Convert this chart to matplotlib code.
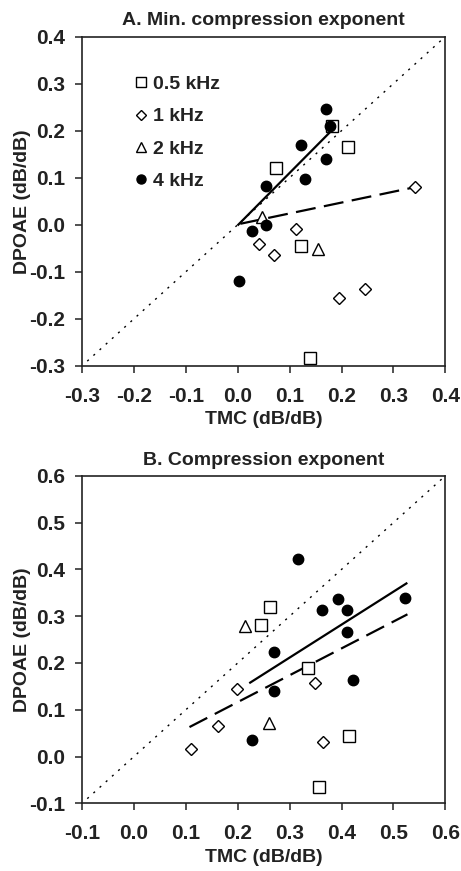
import matplotlib
matplotlib.use("Agg")
import matplotlib.pyplot as plt
from matplotlib.lines import Line2D

plt.rcParams['font.family'] = ['Liberation Sans', 'DejaVu Sans']
plt.rcParams['font.weight'] = 'bold'

# ---------------- Panel A data ----------------
a_sq_x = [0.073, 0.181, 0.212, 0.122, 0.139]
a_sq_y = [0.120, 0.210, 0.165, -0.046, -0.284]
a_di_x = [0.342, 0.112, 0.041, 0.069, 0.195, 0.245]
a_di_y = [0.080, -0.010, -0.042, -0.065, -0.155, -0.136]
a_tr_x = [0.046, 0.155]
a_tr_y = [0.016, -0.051]
a_ci_x = [0.170, 0.177, 0.122, 0.170, 0.130, 0.054, 0.054, 0.027, 0.003]
a_ci_y = [0.245, 0.210, 0.169, 0.140, 0.098, 0.082, 0.000, -0.014, -0.120]
a_solid_x = [0.001, 0.178]
a_solid_y = [0.000, 0.197]
a_dash_x = [0.005, 0.338]
a_dash_y = [0.002, 0.079]
a_diag = [-0.29, 0.395]
a_lim = [-0.3, 0.4]
a_ticks = [-0.3, -0.2, -0.1, 0.0, 0.1, 0.2, 0.3, 0.4]

# ---------------- Panel B data ----------------
b_sq_x = [0.263, 0.244, 0.336, 0.415, 0.356]
b_sq_y = [0.320, 0.281, 0.190, 0.044, -0.065]
b_di_x = [0.198, 0.349, 0.161, 0.110, 0.364]
b_di_y = [0.144, 0.158, 0.066, 0.016, 0.031]
b_tr_x = [0.214, 0.261]
b_tr_y = [0.278, 0.071]
b_ci_x = [0.316, 0.363, 0.394, 0.410, 0.410, 0.523, 0.269, 0.269, 0.422, 0.227]
b_ci_y = [0.422, 0.313, 0.337, 0.313, 0.267, 0.338, 0.224, 0.140, 0.164, 0.036]
b_solid_x = [0.224, 0.525]
b_solid_y = [0.158, 0.370]
b_dash_x = [0.107, 0.527]
b_dash_y = [0.063, 0.304]
b_diag = [-0.09, 0.595]
b_lim = [-0.1, 0.6]
b_ticks = [-0.1, 0.0, 0.1, 0.2, 0.3, 0.4, 0.5, 0.6]

labels = ['0.5 kHz', '1 kHz', '2 kHz', '4 kHz']

fig = plt.figure(figsize=(4.61, 8.71), dpi=100)
axA = fig.add_axes([0.178, 0.580, 0.788, 0.378])
axB = fig.add_axes([0.178, 0.0777, 0.788, 0.376])

TFS = 15
LFS = 14
ms = 7.5
INK = '#222222'


def draw(ax, lim, diag, ticks, sq, di, tr, ci, solid, dash, title):
    ax.plot(diag, diag, linestyle=(0, (1.5, 4.5)), color='black', lw=1.0, zorder=1)
    ax.plot(solid[0], solid[1], color='black', lw=1.6, zorder=2)
    ax.plot(dash[0], dash[1], color='black', lw=1.6, linestyle=(0, (9, 3.8)), zorder=2)
    ax.plot(sq[0], sq[1], 's', ms=ms + 0.5, mfc='white', mec='black', mew=1.0, zorder=3)
    ax.plot(di[0], di[1], 'D', ms=ms - 1.6, mfc='white', mec='black', mew=1.0, zorder=3)
    ax.plot(tr[0], tr[1], '^', ms=ms + 0.5, mfc='white', mec='black', mew=1.0, zorder=3)
    ax.plot(ci[0], ci[1], 'o', ms=ms, mfc='black', mec='black', zorder=4)
    ax.set_xlim(lim)
    ax.set_ylim(lim)
    ax.set_xticks(ticks)
    ax.set_yticks(ticks)
    ax.set_xticklabels([f'{t:.1f}' for t in ticks], fontsize=TFS, fontweight='bold')
    ax.set_yticklabels([f'{t:.1f}' for t in ticks], fontsize=TFS, fontweight='bold')
    ax.tick_params(direction='out', length=5, width=1.1, colors=INK, labelcolor=INK)
    ax.tick_params(axis='x', pad=10)
    ax.tick_params(axis='y', pad=7)
    for s in ax.spines.values():
        s.set_linewidth(1.2)
        s.set_color(INK)
    ax.set_xlabel('TMC (dB/dB)', fontsize=LFS, fontweight='bold', color=INK, labelpad=4)
    ax.set_ylabel('DPOAE (dB/dB)', fontsize=LFS, fontweight='bold', color=INK, labelpad=-1)
    ax.set_title(title, fontsize=LFS, fontweight='bold', color=INK, pad=8)


draw(axA, a_lim, a_diag, a_ticks, (a_sq_x, a_sq_y), (a_di_x, a_di_y), (a_tr_x, a_tr_y),
     (a_ci_x, a_ci_y), (a_solid_x, a_solid_y), (a_dash_x, a_dash_y),
     'A. Min. compression exponent')
draw(axB, b_lim, b_diag, b_ticks, (b_sq_x, b_sq_y), (b_di_x, b_di_y), (b_tr_x, b_tr_y),
     (b_ci_x, b_ci_y), (b_solid_x, b_solid_y), (b_dash_x, b_dash_y),
     'B. Compression exponent')

handles = [
    Line2D([], [], marker='s', ls='none', ms=7, mfc='white', mec='black', mew=1.0),
    Line2D([], [], marker='D', ls='none', ms=5.2, mfc='white', mec='black', mew=1.0),
    Line2D([], [], marker='^', ls='none', ms=7, mfc='white', mec='black', mew=1.0),
    Line2D([], [], marker='o', ls='none', ms=6.5, mfc='black', mec='black'),
]
leg = axA.legend(handles, labels, loc='upper left', bbox_to_anchor=(0.125, 0.905),
                 frameon=False, handlelength=0.6, handletextpad=0.3,
                 labelspacing=0.75, borderaxespad=0,
                 prop={'size': LFS, 'weight': 'bold'})
for t in leg.get_texts():
    t.set_color(INK)

fig.savefig('out.png', dpi=100)
